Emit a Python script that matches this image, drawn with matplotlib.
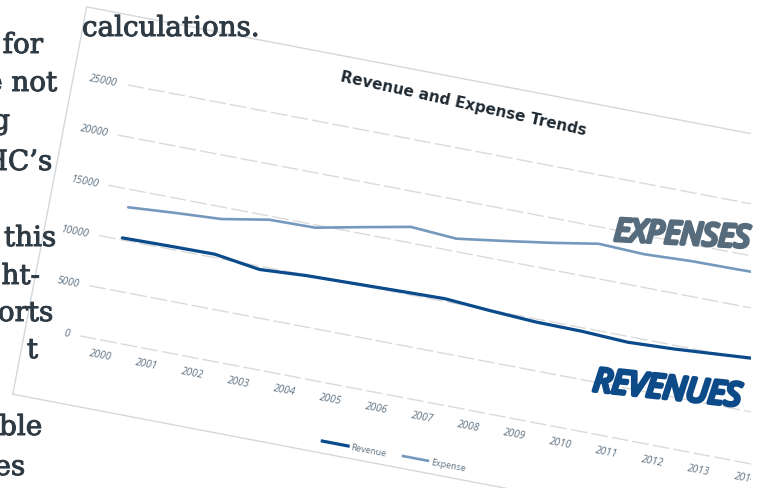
import numpy as np
import matplotlib
matplotlib.use("Agg")
from matplotlib import pyplot as plt
from matplotlib import patheffects as pe
from matplotlib.transforms import Affine2D
from matplotlib.patches import Rectangle

years = [2000, 2001, 2002, 2003, 2004, 2005, 2006, 2007, 2008, 2009, 2010, 2011, 2012, 2013, 2014]
revenue = [10200, 10280, 10330, 9680, 9950, 10060, 10170, 10270, 9950, 9700, 9650, 9440, 9640, 9960, 10290]
expense = [13250, 13570, 13830, 14640, 14720, 15650, 16550, 16250, 16900, 17590, 18370, 18200, 18400, 18450, 18550]
yticks = [0, 5000, 10000, 15000, 20000, 25000]
title = "Revenue and Expense Trends"
side_words = ["for", "e not", "g", "HC\u2019s", "this", "ht-", "orts", "t", "ble", "es"]

# page layout (pixels, image style y down)
fig = plt.figure(figsize=(7.63, 4.89), dpi=100)
ax = fig.add_axes([0, 0, 1, 1])
ax.set_xlim(0, 763)
ax.set_ylim(489, 0)
ax.axis("off")

# the chart is printed tilted on the page: build a (year, value) -> pixel transform
ang = 10.8
c, s = np.cos(np.radians(ang)), np.sin(np.radians(ang))
px_year = 46.9
px_val = 51.1 / 5000
x0, y0 = 102.8, 341.3
tr = (Affine2D().translate(-2000, 0)
      + Affine2D.from_values(px_year * c, px_year * s, px_val * s, -px_val * c, x0, y0)
      + ax.transData)
clip = Rectangle((0, 0), 751, 489, transform=ax.transData, fill=False)

def clipped(artists):
    for a in artists:
        a.set_clip_on(True)
        a.set_clip_path(clip)

# frame of the chart
fu = [1998.33, 2030, 2030, 1998.33, 1998.33]
fv = [-6830, -6830, 31750, 31750, -6830]
clipped(ax.plot(fu, fv, color="#d3d8dc", lw=1.0, transform=tr))

# gridlines
for v in yticks:
    clipped(ax.plot([1999.5, 2014.5], [v, v], color="#dadada", lw=1.0,
                    ls=(0, (12, 3)), transform=tr))

# series
clipped(ax.plot(years, expense, color="#7598bd", lw=1.9, transform=tr,
                solid_capstyle="round", solid_joinstyle="round"))
clipped(ax.plot(years, revenue, color="#0b4a8b", lw=2.3, transform=tr,
                solid_capstyle="round", solid_joinstyle="round"))

lab_col = "#5e7282"
for v in yticks:
    t = ax.text(1999.28, v, str(v), transform=tr, ha="right", va="center",
                rotation=-ang, rotation_mode="anchor", fontsize=7.4,
                color=lab_col, family="Open Sans", style="italic")
    clipped([t])
for y in years:
    t = ax.text(y, -1460, str(y), transform=tr, ha="center", va="center",
                rotation=-ang, rotation_mode="anchor", fontsize=7.4,
                color=lab_col, family="Open Sans", style="italic")
    clipped([t])

ax.text(2006.6, 29400, title, transform=tr, ha="center", va="center",
        rotation=-12.5, rotation_mode="anchor", fontsize=11,
        fontweight="bold", color="#1f2a33")

# legend
ax.plot([2005.0, 2005.56], [-5660, -5660], color="#0b4a8b", lw=2.3, transform=tr)
ax.text(2005.62, -5660, "Revenue", transform=tr, ha="left", va="center",
        rotation=-ang, rotation_mode="anchor", fontsize=6.5, color=lab_col,
        family="Open Sans")
ax.plot([2006.75, 2007.29], [-5620, -5620], color="#7598bd", lw=1.9, transform=tr)
ax.text(2007.35, -5620, "Expense", transform=tr, ha="left", va="center",
        rotation=-ang, rotation_mode="anchor", fontsize=6.5, color=lab_col,
        family="Open Sans")

# hand lettered callouts (stroke thickens the condensed face)
exp_col = "#566b7c"
rev_col = "#0d4a88"
ax.text(682, 237, "EXPENSES", ha="center", va="center", rotation=-3,
        fontsize=22.5, fontweight="bold", style="italic", color=exp_col,
        family="Noto Sans", fontstretch="extra-condensed",
        path_effects=[pe.withStroke(linewidth=2.6, foreground=exp_col)])
ax.text(667, 391, "REVENUES", ha="center", va="center", rotation=-6,
        fontsize=23.5, fontweight="bold", style="italic", color=rev_col,
        family="Noto Sans", fontstretch="extra-condensed",
        path_effects=[pe.withStroke(linewidth=2.8, foreground=rev_col)])

# surrounding page text
txt_col = "#2e3a44"
page_fx = [pe.withStroke(linewidth=0.7, foreground=txt_col)]
ax.text(82, 37, "calculations.", ha="left", va="baseline", fontsize=20,
        color=txt_col, family="DejaVu Serif", path_effects=page_fx)
right_edges = [43, 57, 10, 52, 56, 40, 53, 38, 42, 25]
baselines = [54, 92, 130, 171, 247, 285, 322, 359, 436, 476]
for w, xr, yb in zip(side_words, right_edges, baselines):
    ax.text(xr, yb, w, ha="right", va="baseline", fontsize=20,
            color=txt_col, family="DejaVu Serif", path_effects=page_fx)

fig.savefig("out.png", dpi=100)
